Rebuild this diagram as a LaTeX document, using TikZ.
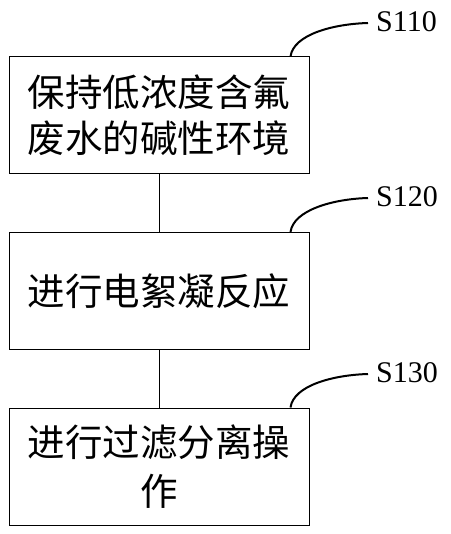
\documentclass[tikz,border=0pt]{standalone}
\usepackage{fontspec}
\setmainfont{Liberation Serif}
\newfontfamily\cjk{Noto Sans CJK SC}
\begin{document}
\begin{tikzpicture}[x=1pt,y=-1pt,
  stepbox/.style={draw=black, line width=1pt, minimum width=300pt, minimum height=117pt,
    inner sep=0pt, align=center, font=\cjk\fontsize{37.5}{46}\selectfont},
  steplabel/.style={anchor=west, inner sep=0pt, font=\fontsize{30}{30}\selectfont},
  link/.style={draw=black, line width=1pt},
  hook/.style={draw=black, line width=2pt}]
\useasboundingbox (0,0) rectangle (450,534);
\node[stepbox] (b1) at (159,115.5) {保持低浓度含氟\\废水的碱性环境};
\node[stepbox] (b2) at (159,291) {进行电絮凝反应};
\node[stepbox, font=\cjk\fontsize{37.5}{49}\selectfont] (b3) at (159,466.5) {进行过滤分离操\\作};
\node[steplabel] (s1) at (376,22) {S110};
\node[steplabel] (s2) at (376,197) {S120};
\node[steplabel] (s3) at (376,373) {S130};
\draw[link] (b1) -- (b2);
\draw[link] (b2) -- (b3);
\draw[hook] ([xshift=-19pt]b1.north east) .. controls +(3,-22) and +(-35,1) .. ([xshift=-8pt,yshift=-1pt]s1.west);
\draw[hook] ([xshift=-19pt]b2.north east) .. controls +(3,-22) and +(-35,1) .. ([xshift=-8pt,yshift=-1pt]s2.west);
\draw[hook] ([xshift=-19pt]b3.north east) .. controls +(3,-22) and +(-35,1) .. ([xshift=-8pt,yshift=-1pt]s3.west);
\end{tikzpicture}
\end{document}
